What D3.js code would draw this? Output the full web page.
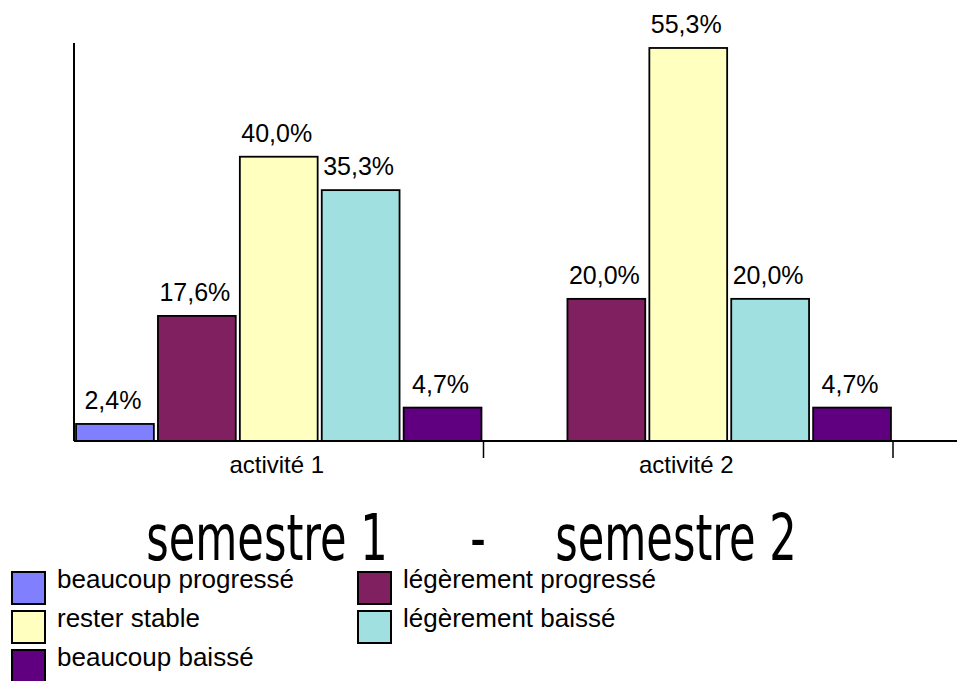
<!DOCTYPE html>
<html>
<head>
<meta charset="utf-8">
<script src="https://cdn.jsdelivr.net/npm/d3@7"></script>
<style>
  html, body { margin: 0; padding: 0; background: #ffffff; }
  svg { display: block; }
</style>
</head>
<body>
<svg id="chart" width="957" height="681"></svg>
<script>
// ---- data ----
const categories = ["activité 1", "activité 2"];
const seriesNames = ["beaucoup progressé", "légèrement progressé", "rester stable", "légèrement baissé", "beaucoup baissé"];
const beaucoupProgresse = [2.4, 0];
const legerementProgresse = [17.6, 20.0];
const resterStable = [40.0, 55.3];
const legerementBaisse = [35.3, 20.0];
const beaucoupBaisse = [4.7, 4.7];
const seriesColors = ["#8080FF", "#802060", "#FFFFC0", "#A0E0E0", "#600080"];
const titleParts = ["semestre 1", "-", "semestre 2"];

const seriesValues = [beaucoupProgresse, legerementProgresse, resterStable, legerementBaisse, beaucoupBaisse];

// ---- layout ----
const svg = d3.select("#chart");
const plotLeft = 74, plotRight = 893, axisEnd = 957;
const plotTop = 43, plotBottom = 441;

const x0 = d3.scaleBand().domain(categories).range([plotLeft, plotRight]).paddingInner(0).paddingOuter(0);
const x1 = d3.scaleBand().domain(seriesNames).range([0, x0.bandwidth()]).paddingInner(0.05).paddingOuter(0.025);
const y = d3.scaleLinear().domain([0, 56]).range([plotBottom, plotTop]);

const fmt = v => d3.format(".1f")(v).replace(".", ",") + "%";

// bars
const groups = svg.append("g").selectAll("g")
  .data(categories)
  .join("g")
  .attr("transform", c => `translate(${x0(c)},0)`);

groups.each(function(c, ci) {
  const g = d3.select(this);
  const recs = seriesNames.map((s, si) => ({ s, si, v: seriesValues[si][ci] })).filter(d => d.v > 0);
  g.selectAll("rect").data(recs).join("rect")
    .attr("x", d => x1(d.s))
    .attr("y", d => y(d.v))
    .attr("width", x1.bandwidth())
    .attr("height", d => y(0) - y(d.v))
    .attr("fill", d => seriesColors[d.si])
    .attr("stroke", "#000")
    .attr("stroke-width", 1.8);
  g.selectAll("text").data(recs).join("text")
    .attr("x", d => x1(d.s) + x1.bandwidth() / 2 - 2)
    .attr("y", d => y(d.v) - 15)
    .attr("text-anchor", "middle")
    .attr("font-family", "Liberation Sans, Arial, sans-serif")
    .attr("font-size", 25)
    .attr("fill", "#000")
    .text(d => fmt(d.v));
});

// axes
svg.append("line")
  .attr("x1", plotLeft).attr("x2", plotLeft)
  .attr("y1", plotTop).attr("y2", plotBottom)
  .attr("stroke", "#000").attr("stroke-width", 2);
svg.append("line")
  .attr("x1", plotLeft).attr("x2", axisEnd)
  .attr("y1", plotBottom).attr("y2", plotBottom)
  .attr("stroke", "#000").attr("stroke-width", 2);

// category boundary ticks
svg.append("g").selectAll("line")
  .data(categories)
  .join("line")
  .attr("x1", c => x0(c) + x0.bandwidth())
  .attr("x2", c => x0(c) + x0.bandwidth())
  .attr("y1", plotBottom).attr("y2", plotBottom + 17)
  .attr("stroke", "#000").attr("stroke-width", 1.5);

// category labels
svg.append("g").selectAll("text")
  .data(categories)
  .join("text")
  .attr("x", c => x0(c) + x0.bandwidth() / 2 - 2)
  .attr("y", 473)
  .attr("text-anchor", "middle")
  .attr("font-family", "Liberation Sans, Arial, sans-serif")
  .attr("font-size", 24)
  .attr("fill", "#000")
  .text(c => c);

// title (vertically stretched like the original)
const titleX = [267, 478, 676];
svg.append("g").selectAll("text")
  .data(titleParts)
  .join("text")
  .attr("transform", (d, i) => `translate(${titleX[i]},560) scale(1,1.35)`)
  .attr("text-anchor", "middle")
  .attr("font-family", "DejaVu Sans Condensed, DejaVu Sans, sans-serif")
  .attr("font-size", 48)
  .attr("fill", "#000")
  .text(d => d);

// legend
const legCols = [12, 358], legRows = [572, 611, 650];
const leg = svg.append("g").selectAll("g")
  .data(seriesNames)
  .join("g")
  .attr("transform", (d, i) => `translate(${legCols[i % 2]},${legRows[Math.floor(i / 2)]})`);
leg.append("rect")
  .attr("width", 33).attr("height", 32)
  .attr("fill", (d, i) => seriesColors[i])
  .attr("stroke", "#000").attr("stroke-width", 2);
leg.append("text")
  .attr("x", 45)
  .attr("y", 16)
  .attr("font-family", "Liberation Sans, Arial, sans-serif")
  .attr("font-size", 26)
  .attr("fill", "#000")
  .text(d => d);
</script>
</body>
</html>
